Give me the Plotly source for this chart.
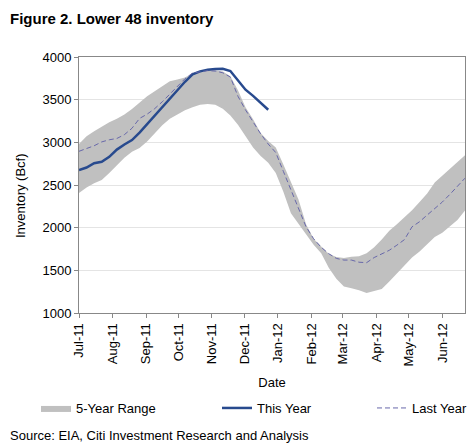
import pandas as pd
import plotly.graph_objects as go

# weekly storage reports, Jul-11 .. Jun-12
weeks = pd.date_range("2011-07-01", periods=52, freq="7D")

range_high = [2980, 3070, 3130, 3185, 3235, 3275, 3325, 3390, 3465, 3540,
              3600, 3660, 3715, 3735, 3760, 3810, 3835, 3850, 3845, 3830,
              3775, 3610, 3410, 3270, 3110, 3015, 2940, 2740, 2540, 2330,
              2040, 1870, 1780, 1695, 1655, 1645, 1660, 1665, 1700, 1770,
              1860, 1965, 2040, 2120, 2205, 2300, 2400, 2530, 2610, 2685,
              2760, 2850]
range_low = [2405, 2470, 2520, 2560, 2640, 2735, 2820, 2890, 2935, 3010,
             3100, 3200, 3275, 3330, 3375, 3410, 3440, 3450, 3440, 3395,
             3315, 3205, 3070, 2940, 2840, 2760, 2640, 2420, 2170, 2050,
             1920, 1800, 1700, 1530, 1400, 1310, 1290, 1268, 1235, 1255,
             1280, 1370, 1460, 1560, 1650, 1720, 1810, 1890, 1940, 2020,
             2090, 2200]
this_year = [2676, 2705, 2755, 2773, 2830, 2915, 2975, 3027, 3113, 3215,
             3312, 3411, 3520, 3610, 3710, 3798, 3832, 3852, 3858, 3862,
             3835, 3730, 3617, 3545, 3466, 3382]
last_year = [2895, 2925, 2960, 3005, 3030, 3045, 3090, 3165, 3280, 3330,
             3395, 3475, 3565, 3655, 3745, 3812, 3830, 3840, 3835, 3815,
             3765, 3540, 3380, 3240, 3100, 2980, 2880, 2660, 2440, 2220,
             2010, 1870, 1770, 1695, 1640, 1620, 1620, 1595, 1590, 1650,
             1690, 1735, 1795, 1860, 2010, 2070, 2148, 2220, 2300, 2390,
             2480, 2580]

FONT = "Liberation Sans, Arial, sans-serif"

# the page body keeps its default 8px margin, so the figure is drawn
# 8px smaller and everything is laid out relative to that offset
OFF = 8
W, H = 476 - OFF, 446 - OFF
L, T, R, B = 79 - OFF, 57 - OFF, 11, 133
PW, PH = W - L - R, H - T - B


def px_x(px):
    # window px (from left) -> paper x
    return (px - OFF - L) / PW


def px_y(py):
    # window px (from top) -> paper y
    return (T + PH - (py - OFF)) / PH


fig = go.Figure()

fig.add_trace(go.Scatter(
    x=weeks, y=range_low,
    mode="lines", line=dict(width=0, color="#c0c0c0"),
    showlegend=False, hoverinfo="skip",
))
fig.add_trace(go.Scatter(
    x=weeks, y=range_high,
    mode="lines", line=dict(width=0, color="#c0c0c0"),
    fill="tonexty", fillcolor="#c0c0c0",
    name="5-Year Range", legend="legend",
))
fig.add_trace(go.Scatter(
    x=weeks[:len(this_year)], y=this_year,
    mode="lines", line=dict(color="#284a8e", width=2.5),
    name="This Year", legend="legend2",
))
fig.add_trace(go.Scatter(
    x=weeks, y=last_year,
    mode="lines", line=dict(color="#6868aa", width=1, dash="5px,3px"),
    name="Last Year", legend="legend3",
))

leg = dict(orientation="h", xanchor="left", yanchor="middle", y=px_y(408),
           font=dict(size=13), bgcolor="rgba(0,0,0,0)", borderwidth=0)

fig.update_layout(
    width=W, height=H,
    margin=dict(l=L, r=R, t=T, b=B, autoexpand=False),
    paper_bgcolor="white", plot_bgcolor="white",
    font=dict(family=FONT, size=13, color="#000000"),
    showlegend=True,
    legend=dict(leg, x=px_x(36)),
    legend2=dict(leg, x=px_x(217)),
    legend3=dict(leg, x=px_x(372)),
    annotations=[
        dict(text="<b>Figure 2. Lower 48 inventory</b>", xref="paper", yref="paper",
             x=px_x(8), y=px_y(18), xanchor="left", yanchor="middle",
             showarrow=False, font=dict(size=15)),
        dict(text="Inventory (Bcf)", xref="paper", yref="paper",
             x=px_x(20), y=px_y(196), textangle=-90, xanchor="center",
             yanchor="middle", showarrow=False, font=dict(size=13)),
        dict(text="Source: EIA, Citi Investment Research and Analysis", xref="paper",
             yref="paper", x=px_x(8), y=px_y(435), xanchor="left",
             yanchor="middle", showarrow=False, font=dict(size=13)),
    ],
)

fig.update_xaxes(
    type="date", range=["2011-07-01", "2012-06-22"],
    tick0="2011-07-01", dtick="M1", tickformat="%b-%y", tickangle=-90,
    ticks="outside", ticklen=4, tickcolor="#888888",
    showline=True, linecolor="#888888", linewidth=1, mirror=True,
    showgrid=False, tickfont=dict(size=13),
    title=dict(text="Date", standoff=12, font=dict(size=13)),
)
fig.update_yaxes(
    range=[1000, 4000], dtick=500,
    ticks="outside", ticklen=4, tickcolor="#888888",
    showline=True, linecolor="#888888", linewidth=1, mirror=True,
    showgrid=True, gridcolor="#e4e4e4", gridwidth=1,
    zeroline=False, tickfont=dict(size=13),
)

fig.write_html("out.html")
